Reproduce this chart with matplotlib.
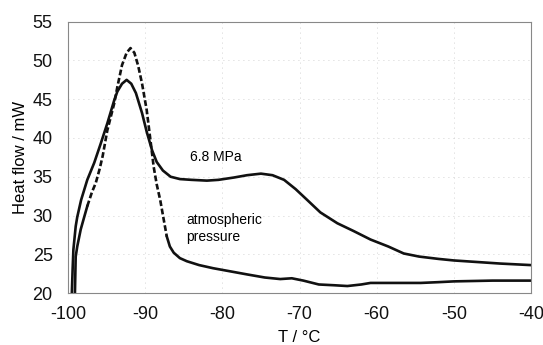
import numpy as np
import matplotlib.pyplot as plt

plt.rcParams['font.family'] = ['Liberation Sans', 'DejaVu Sans']
plt.rcParams['axes.unicode_minus'] = False

# 6.8 MPa curve
T_hp = [-99.5, -99.4, -99.3, -99.0, -98.8, -98.3, -97.5, -96.6, -95.75, -94.9,
        -94.0, -93.6, -93.0, -92.4, -91.8, -91.2, -90.4, -89.8, -89.1, -88.5, -87.7,
        -86.7, -85.5, -84.0, -82.0, -80.5, -78.5, -76.8, -75.0, -73.5, -72.0, -70.5,
        -69.0, -67.3, -65.1, -63.0, -60.8, -58.5, -56.5, -54.5, -52.0, -50.0, -47.0,
        -44.0, -40.0]
H_hp = [20.0, 23.0, 25.6, 28.6, 29.8, 32.0, 34.6, 36.8, 39.3, 41.9,
        44.9, 46.0, 47.0, 47.5, 47.0, 45.8, 43.2, 40.8, 38.4, 36.9, 35.8,
        35.0, 34.7, 34.6, 34.5, 34.6, 34.9, 35.2, 35.4, 35.2, 34.6, 33.4,
        32.0, 30.4, 29.0, 28.0, 26.9, 26.0, 25.1, 24.7, 24.4, 24.2, 24.0,
        23.8, 23.6]

# atmospheric pressure curve
T_atm = [-99.1, -99.0, -98.8, -98.35, -97.9, -97.5, -96.9, -96.4, -95.9, -95.5, -94.9,
         -94.0, -93.6, -93.0, -92.4, -91.9, -91.4, -90.9, -90.4, -89.8, -89.3, -88.9,
         -88.5, -88.05, -87.6, -87.2, -86.8, -86.3, -85.5, -84.6, -83.0, -81.2, -79.0,
         -76.8, -74.5, -72.5, -71.0, -69.5, -67.5, -65.5, -63.8, -62.0, -60.8, -57.5,
         -54.3, -52.0, -50.0, -45.0, -40.0]
H_atm = [20.0, 24.7, 26.0, 28.2, 29.8, 31.2, 33.0, 34.2, 36.0, 37.7, 41.0,
         44.5, 46.6, 49.4, 51.0, 51.6, 51.0, 49.3, 47.0, 43.6, 39.6, 36.3,
         34.0, 32.0, 29.5, 27.3, 26.0, 25.2, 24.5, 24.1, 23.6, 23.2, 22.8,
         22.4, 22.0, 21.8, 21.9, 21.6, 21.1, 21.0, 20.9, 21.1, 21.3, 21.3,
         21.3, 21.4, 21.5, 21.6, 21.6]

# section of the atmospheric curve drawn dashed
DASH_FROM, DASH_TO = -97.5, -87.2

fig = plt.figure(figsize=(5.43, 3.45), dpi=100)
ax = fig.add_axes([0.1252, 0.1507, 0.8528, 0.7863])

lw = 1.9
ax.plot(T_hp, H_hp, color='#111111', lw=lw)

T_atm = np.array(T_atm)
H_atm = np.array(H_atm)
low = T_atm <= DASH_FROM
mid = (T_atm >= DASH_FROM) & (T_atm <= DASH_TO)
high = T_atm >= DASH_TO
ax.plot(T_atm[low], H_atm[low], color='#111111', lw=lw)
ax.plot(T_atm[mid], H_atm[mid], color='#111111', lw=lw, linestyle=(0, (2.2, 1.0)))
ax.plot(T_atm[high], H_atm[high], color='#111111', lw=lw)

ax.text(-84.2, 37.5, "6.8 MPa", fontsize=10, va='center', ha='left')
ax.text(-84.7, 28.3, "atmospheric\npressure", fontsize=10, va='center', ha='left',
        linespacing=1.25)

ax.set_xlim(-100, -40)
ax.set_ylim(20, 55)
ax.set_xticks(np.arange(-100, -39, 10))
ax.set_yticks(np.arange(20, 56, 5))
ax.tick_params(length=0, labelsize=13, colors='#111111')
ax.tick_params(axis='x', pad=9)
ax.tick_params(axis='y', pad=11)
ax.grid(True, color='#c4c4c4', linestyle=(0, (1, 5)), linewidth=0.6)
for s in ax.spines.values():
    s.set_color('#888888')
    s.set_linewidth(0.8)

ax.set_ylabel("Heat flow / mW", fontsize=12, labelpad=3)
ax.set_xlabel("T / °C", fontsize=12, labelpad=5.5)

fig.savefig("out.png", dpi=100)
